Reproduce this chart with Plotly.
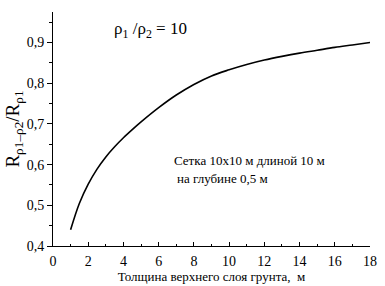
import plotly.graph_objects as go

thickness = [1, 1.5, 2, 2.5, 3, 3.5, 4, 4.5, 5, 6, 7, 8, 9, 10, 11, 12, 13, 14, 15, 16, 17, 18]
ratio = [0.440, 0.505, 0.552, 0.589, 0.619, 0.644, 0.666, 0.686, 0.705, 0.740, 0.771, 0.797,
         0.818, 0.833, 0.846, 0.857, 0.866, 0.874, 0.881, 0.888, 0.894, 0.900]

x_ticks = [0, 2, 4, 6, 8, 10, 12, 14, 16, 18]
y_ticks = [0.4, 0.5, 0.6, 0.7, 0.8, 0.9]

font = "Liberation Serif"

fig = go.Figure()
fig.add_trace(go.Scatter(x=thickness, y=ratio, mode="lines",
                         line=dict(color="black", width=1.6, shape="spline", smoothing=1),
                         showlegend=False, hoverinfo="skip"))

fig.add_annotation(x=3.36, y=0.93, xref="x", yref="y", xanchor="left", yanchor="middle",
                   text="ρ<sub>1</sub> /ρ<sub>2</sub> = 10", showarrow=False,
                   font=dict(family=font, size=17, color="black"))
fig.add_annotation(x=6.73, y=0.611, xref="x", yref="y", xanchor="left", yanchor="middle",
                   text="Сетка 10х10 м длиной 10 м", showarrow=False,
                   font=dict(family=font, size=13, color="black"))
fig.add_annotation(x=6.93, y=0.566, xref="x", yref="y", xanchor="left", yanchor="middle",
                   text="на глубине 0,5 м", showarrow=False,
                   font=dict(family=font, size=13, color="black"))

fig.update_layout(
    width=385, height=286,
    margin=dict(l=53, r=15, t=12, b=40),
    paper_bgcolor="white", plot_bgcolor="white",
    separators=", ",
    font=dict(family=font, size=13, color="black"),
    xaxis=dict(range=[0, 18], tickvals=x_ticks, ticks="inside", ticklen=4, tickwidth=1,
               tickcolor="black", showline=True, linecolor="black", linewidth=1,
               showgrid=False, zeroline=False, tickfont=dict(family=font, size=14),
               ticklabelstandoff=2, automargin=False,
               minor=dict(dtick=1, ticks="inside", ticklen=2.5, tickcolor="black", showgrid=False),
               title=dict(text="Толщина верхнего слоя грунта,  м",
                          font=dict(family=font, size=13), standoff=3)),
    yaxis=dict(range=[0.4, 0.975], tickvals=y_ticks, tickformat=".1f", ticks="outside",
               ticklen=5, tickwidth=1, tickcolor="black", showline=True, linecolor="black",
               linewidth=1, showgrid=False, zeroline=False, tickfont=dict(family=font, size=14),
               automargin=False,
               minor=dict(dtick=0.05, tick0=0.4, ticks="outside", ticklen=3, tickcolor="black", showgrid=False),
               title=dict(text="R<sub>ρ1–ρ2</sub>/R<sub>ρ1</sub>",
                          font=dict(family=font, size=19), standoff=2)),
)

fig.write_html("out.html")
